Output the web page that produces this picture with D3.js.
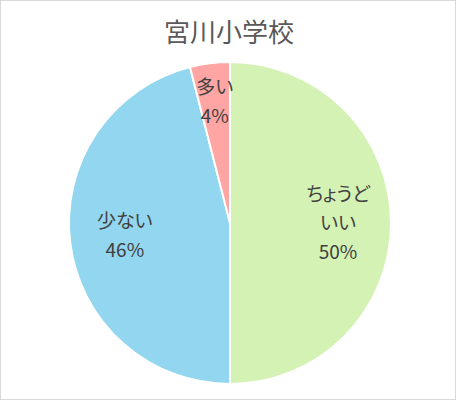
<!DOCTYPE html>
<html>
<head>
<meta charset="utf-8">
<script src="https://cdn.jsdelivr.net/npm/d3@7"></script>
<style>
  body { margin: 0; background: #fff; }
  svg { display: block; }
</style>
</head>
<body>
<svg id="chart" width="457" height="402"></svg>
<script>
var title = "宮川小学校";
var categories = ["ちょうど\nいい", "少ない", "多い"];
var values = [50, 46, 4];
var colors = ["#d5f2b5", "#92d7ef", "#ffa5a3"];

var svg = d3.select("#chart");
var W = 457, H = 402;

svg.append("rect")
  .attr("x", 0.5).attr("y", 0.5)
  .attr("width", W - 2).attr("height", H - 3)
  .attr("fill", "#fff")
  .attr("stroke", "#d9d9d9");

svg.append("text")
  .attr("x", 229).attr("y", 42)
  .attr("text-anchor", "middle")
  .style("font-family", "'Noto Sans CJK JP', sans-serif")
  .style("font-size", "26px")
  .style("fill", "#595959")
  .text(title);

var cx = 230, cy = 223, r = 161;
var data = values.map(function(v, i) { return { name: categories[i], value: v, color: colors[i] }; });

var pie = d3.pie().sort(null).value(function(d) { return d.value; });
var arc = d3.arc().innerRadius(0).outerRadius(r);
var arcs = pie(data);

var g = svg.append("g").attr("transform", "translate(" + cx + "," + cy + ")");

g.selectAll("path")
  .data(arcs)
  .enter().append("path")
  .attr("d", arc)
  .attr("fill", function(d) { return d.data.color; })
  .attr("stroke", "#fff")
  .attr("stroke-width", 2);

// label radius grows a bit for thin slices
var labelArc = function(d) {
  var share = (d.endAngle - d.startAngle) / (2 * Math.PI);
  var lr = share < 0.1 ? 122 : (share < 0.48 ? 106 : 108);
  return d3.arc().innerRadius(lr).outerRadius(lr).centroid(d);
};

var lineH = 29;
var labels = g.selectAll("g.lbl")
  .data(arcs)
  .enter().append("g")
  .attr("class", "lbl")
  .attr("transform", function(d) { var c = labelArc(d); return "translate(" + c[0] + "," + c[1] + ")"; });

labels.each(function(d) {
  var lines = d.data.name.split("\n").concat([d.data.value + "%"]);
  var t = d3.select(this).append("text")
    .attr("text-anchor", "middle")
    .style("font-family", "'Noto Sans CJK JP', sans-serif")
    .style("font-size", "19px")
    .style("font-feature-settings", "'palt'")
    .style("fill", "#404040");
  var y0 = -(lines.length - 1) * lineH / 2;
  lines.forEach(function(s, i) {
    t.append("tspan")
      .attr("x", 0)
      .attr("y", y0 + i * lineH)
      .attr("dy", "0.35em")
      .text(s);
  });
});
</script>
</body>
</html>
